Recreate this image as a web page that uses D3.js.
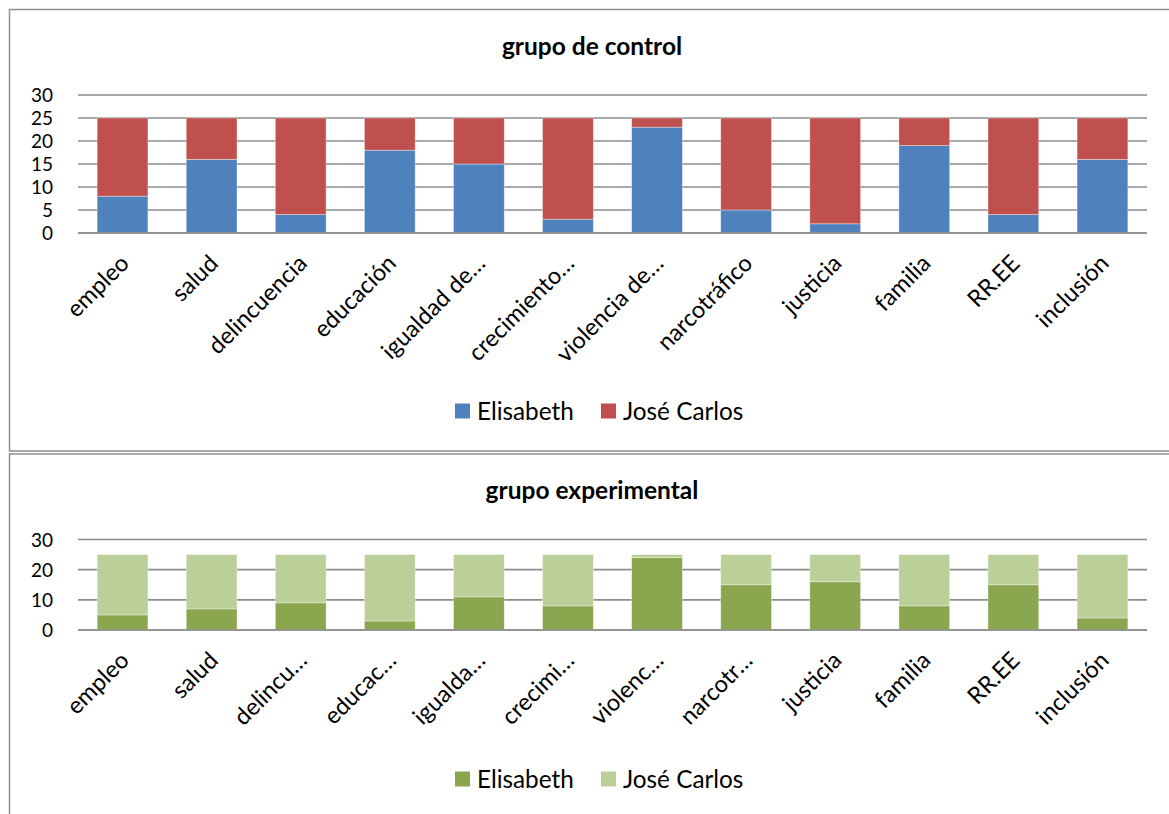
<!DOCTYPE html>
<html>
<head>
<meta charset="utf-8">
<script src="https://cdn.jsdelivr.net/npm/d3@7"></script>
<style>
  html, body { margin: 0; padding: 0; background: #fff; }
  svg { display: block; font-family: Lato, "Open Sans", sans-serif; }
</style>
</head>
<body>
<svg id="chart" width="1169" height="814"></svg>
<script>
// ---- data ----
const categoriesTop = ["empleo", "salud", "delincuencia", "educación", "igualdad de…", "crecimiento…", "violencia de…", "narcotráfico", "justicia", "familia", "RR.EE", "inclusión"];
const categoriesBottom = ["empleo", "salud", "delincu…", "educac…", "igualda…", "crecimi…", "violenc…", "narcotr…", "justicia", "familia", "RR.EE", "inclusión"];
const seriesNames = ["Elisabeth", "José Carlos"];
const controlElisabeth = [8, 16, 4, 18, 15, 3, 23, 5, 2, 19, 4, 16];
const controlJoseCarlos = [17, 9, 21, 7, 10, 22, 2, 20, 23, 6, 21, 9];
const expElisabeth = [5, 7, 9, 3, 11, 8, 24, 15, 16, 8, 15, 4];
const expJoseCarlos = [20, 18, 16, 22, 14, 17, 1, 10, 9, 17, 10, 21];
const ticksTop = [0, 5, 10, 15, 20, 25, 30];
const ticksBottom = [0, 10, 20, 30];
const titleTop = "grupo de control";
const titleBottom = "grupo experimental";

const svg = d3.select("#chart");

// chart frames
svg.append("rect").attr("x", 9.5).attr("y", 9.5).attr("width", 1180).attr("height", 441.5)
  .attr("fill", "none").attr("stroke", "#8f8f8f").attr("stroke-width", 1.5);
svg.append("rect").attr("x", 9.5).attr("y", 454).attr("width", 1180).attr("height", 400)
  .attr("fill", "none").attr("stroke", "#8f8f8f").attr("stroke-width", 1.5);

function drawChart(cfg) {
  const g = svg.append("g");
  const x = d3.scaleBand().domain(cfg.categories).range([78, 1147]).paddingInner(0.43).paddingOuter(0.215);
  const y = d3.scaleLinear().domain([0, 30]).range([cfg.y0, cfg.y30]);

  // title
  g.append("text").attr("x", 592).attr("y", cfg.titleY).attr("text-anchor", "middle")
    .attr("font-size", 24.5).attr("font-weight", "bold").attr("fill", "#000").text(cfg.title);

  // gridlines
  g.append("g").selectAll("line").data(cfg.ticks).join("line")
    .attr("x1", 78).attr("x2", 1147)
    .attr("y1", d => y(d)).attr("y2", d => y(d))
    .attr("stroke", "#8c8c8c").attr("stroke-width", 1.6);

  // y axis labels
  const yAxis = d3.axisLeft(y).tickValues(cfg.ticks).tickSize(0).tickPadding(0);
  const ya = g.append("g").attr("transform", "translate(53,0)").call(yAxis);
  ya.select(".domain").remove();
  ya.selectAll("text").attr("font-size", 19).attr("font-family", "Lato, 'Open Sans', sans-serif").attr("fill", "#000").attr("dy", "0.36em");

  // stacked bars
  const rows = cfg.categories.map((c, i) => ({ cat: c, a: cfg.a[i], b: cfg.b[i] }));
  const stack = d3.stack().keys(["a", "b"])(rows);
  const colors = cfg.colors;
  g.append("g").selectAll("g").data(stack).join("g")
    .attr("fill", (d, i) => colors[i])
    .selectAll("rect").data(d => d).join("rect")
    .attr("x", d => x(d.data.cat))
    .attr("width", x.bandwidth())
    .attr("y", d => y(d[1]))
    .attr("height", d => y(d[0]) - y(d[1]))
    .attr("stroke", "#ffffff").attr("stroke-opacity", 0.45).attr("stroke-width", 0.8);

  // x axis line
  g.append("line").attr("x1", 78).attr("x2", 1147).attr("y1", y(0)).attr("y2", y(0))
    .attr("stroke", "#8c8c8c").attr("stroke-width", 1.6);

  // category labels
  g.append("g").selectAll("text").data(cfg.categories).join("text")
    .attr("transform", d => `translate(${x(d) + x.bandwidth() / 2 + 2},${y(0) + 26}) rotate(-45)`)
    .attr("text-anchor", "end").attr("dy", "0.35em")
    .attr("font-size", 23.5).attr("fill", "#000").text(d => d);

  // legend
  const lg = g.append("g").attr("transform", `translate(0,${cfg.legendY})`);
  const items = [{ name: seriesNames[0], x: 455 }, { name: seriesNames[1], x: 601 }];
  items.forEach((it, i) => {
    lg.append("rect").attr("x", it.x).attr("y", -7.5).attr("width", 15).attr("height", 15).attr("fill", colors[i]);
    lg.append("text").attr("x", it.x + 22).attr("y", 0).attr("dy", "0.36em")
      .attr("font-size", 24.3).attr("fill", "#000").text(it.name);
  });
}

drawChart({ categories: categoriesTop, a: controlElisabeth, b: controlJoseCarlos, ticks: ticksTop,
  y0: 233, y30: 95, title: titleTop, titleY: 55, legendY: 411, colors: ["#4f81bd", "#c0504d"] });
drawChart({ categories: categoriesBottom, a: expElisabeth, b: expJoseCarlos, ticks: ticksBottom,
  y0: 630, y30: 539.5, title: titleBottom, titleY: 499, legendY: 779, colors: ["#8aa64e", "#bbcf98"] });
</script>
</body>
</html>
